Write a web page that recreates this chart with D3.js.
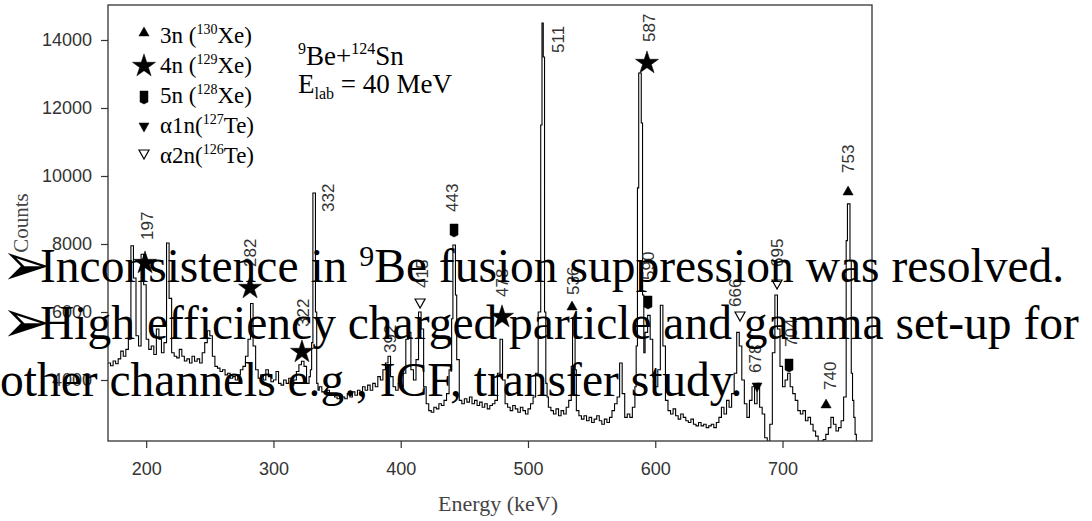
<!DOCTYPE html>
<html>
<head>
<meta charset="utf-8">
<script src="https://cdn.jsdelivr.net/npm/d3@7"></script>
<style>
body { margin: 0; background: #fff; }
</style>
</head>
<body>
<svg id="chart" width="1092" height="521"></svg>
<script>
// spectrum: bin start (keV) and counts, step histogram
const energyKeV = [
  170,172,174,176,178,180,182,184,186,188,190,192,194,196,198,
  200,202,204,206,208,210,212,214,216,218,220,222,224,226,228,
  230,232,234,236,238,240,242,244,246,248,250,252,254,256,258,
  260,262,264,266,268,270,272,274,276,278,280,282,284,286,288,
  290,292,294,296,298,300,302,304,306,308,310,312,314,316,318,
  320,322,324,326,328,329,330,331,333,334,335,336,338,340,342,
  344,346,348,350,352,354,356,358,360,362,364,366,368,370,372,
  374,376,378,380,382,384,386,388,390,392,394,396,398,400,402,
  404,406,408,410,412,414,416,418,420,422,424,426,428,430,432,
  434,436,438,440,441,443,444,446,448,450,452,454,456,458,460,
  462,464,466,468,470,472,474,476,478,480,482,484,486,488,490,
  492,494,496,498,500,502,504,506,508,510,511,512,513,514,515,
  516,518,520,522,524,526,528,530,532,534,535,537,538,540,542,
  544,546,548,550,552,554,556,558,560,562,564,566,568,570,572,
  574,576,578,580,582,584,585,586,587,589,590,591,592,594,596,
  598,600,602,604,606,608,610,612,614,616,618,620,622,624,626,
  628,630,632,634,636,638,640,642,644,646,648,650,652,654,656,
  658,660,662,664,666,668,670,672,674,676,678,680,682,684,686,
  688,690,692,694,696,698,700,702,704,706,708,710,712,714,716,
  718,720,722,724,726,728,730,732,734,736,738,740,742,744,746,
  748,750,751,753,754,755,756,757,758,760,770
];
const counts = [
  4500,4420,4560,4480,4620,4850,4700,4900,5200,7950,7000,5300,5000,7700,6800,
  5200,4900,5000,4750,5500,5200,4800,5100,8030,6400,4800,4700,4650,4900,4700,
  4560,4620,4500,4700,4550,4620,4500,4800,5100,5450,5300,4700,4400,4350,4250,
  4300,4150,4200,4050,4100,4000,4150,4300,4400,4700,5200,6250,5000,4300,4050,
  4150,4000,4300,4100,3950,4000,4250,3900,3850,4000,3900,4050,3850,4000,4250,
  4450,4550,4400,3900,4100,4300,5100,9500,6000,3900,3700,3800,3650,3600,3700,
  3550,3600,3500,3450,3550,3500,3450,3600,3500,3650,3550,3700,3600,3800,3700,
  3850,3700,3900,3800,4100,4000,4300,4500,4700,4100,3800,3700,3900,3800,4200,
  5200,5400,4300,4000,4600,6000,5500,3800,3300,3100,3050,3200,3150,3300,3250,
  3400,3600,4300,5800,7970,6500,4600,3400,3300,3450,3350,3500,3300,3400,3250,
  3350,3200,3300,3150,3250,3300,3400,4200,5200,4000,3300,3200,3100,3250,3150,
  3050,3200,3100,3000,3150,3300,3500,4200,6000,11500,14500,13500,6000,3900,3500,
  3200,3100,3000,3150,2950,3100,3000,3200,3400,4400,5800,4300,3100,2950,2850,
  2950,2800,2900,2750,2850,2950,2800,2700,2850,2750,2900,3100,3300,3500,4500,
  3600,2900,3000,2900,3200,3800,5000,9650,13030,11560,6500,4800,5400,5900,5200,
  4100,3800,4300,6200,5000,3400,3100,3000,3150,2950,2850,3000,2900,2800,2750,
  2850,2700,2650,2750,2650,2700,2600,2650,2700,2600,2750,2900,3200,3000,3400,
  3200,3600,4200,5400,5000,4000,3300,2900,3400,3800,3300,3900,3200,3000,2300,
  2200,2700,4800,6500,5500,4400,3800,4000,4200,3800,3600,3400,3100,3000,3100,
  2800,2900,2700,2500,2350,2150,2200,2250,2400,2600,2900,2700,2500,2600,2800,
  3500,8100,9180,7500,4200,3400,2900,2400,1800,1700,1700
];

const xTicks = [200, 300, 400, 500, 600, 700];
const yTicks = [4000, 6000, 8000, 10000, 12000, 14000];

// rotated peak labels: text, keV and counts at the foot of the label
const peakText = ["197","282","322","332","392","415","443","478","511","536","587","590","666","678","695","704","740","753"];
const peakE = [200.6,281.6,323.2,342.9,391.6,416.7,440.3,479.6,523.6,535.4,595.1,594.3,662.7,678.4,695.7,706.7,737.3,751.5];
const peakC = [8118,7323,5559,8941,4794,6706,8941,6441,13617,6500,13941,6941,6147,4206,7323,4971,3706,10088];

// reaction markers on the peaks
const markType = ["star","star","star","triOpen","square","star","tri","star","square","triOpen","triDown","triOpen","square","tri","tri"];
const markE = [199.1,281.6,322.4,415.2,441.9,479.6,534.6,593.5,594.3,666.6,680.0,695.7,705.1,734.2,751.5];
const markC = [7441,6706,4824,6265,8412,5853,6147,13323,6294,5882,3794,6824,4441,3265,9529];

const legendType = ["tri","star","square","triDown","triOpen"];
const legendPre = ["3n (","4n (","5n (","\u03b11n(","\u03b12n("];
const legendMass = ["130","129","128","127","126"];
const legendEl = ["Xe)","Xe)","Xe)","Te)","Te)"];

const margin = {top: 5, right: 220, bottom: 80, left: 108};
const width = 1092 - margin.left - margin.right,
      height = 521 - margin.top - margin.bottom;

const svg = d3.select("#chart");
svg.append("rect").attr("width", 1092).attr("height", 521).attr("fill", "#fff");

const x = d3.scaleLinear().domain([170, 770.3]).range([0, width]);
const y = d3.scaleLinear().domain([2206, 15029]).range([height, 0]);

const chart = svg.append("g")
    .attr("transform", "translate(" + margin.left + "," + margin.top + ")");

chart.append("clipPath").attr("id", "plotclip")
  .append("rect").attr("width", width).attr("height", height);

const spectrum = energyKeV.map(function(e, i) { return {e: e, c: counts[i]}; });

chart.append("path")
    .datum(spectrum)
    .attr("clip-path", "url(#plotclip)")
    .attr("fill", "none")
    .attr("stroke", "#000")
    .attr("stroke-width", 1.1)
    .attr("d", d3.line()
      .x(function(d) { return x(d.e); })
      .y(function(d) { return y(d.c); })
      .curve(d3.curveStepAfter));

chart.append("rect")
    .attr("width", width).attr("height", height)
    .attr("fill", "none").attr("stroke", "#333").attr("stroke-width", 1.3);

const xAxis = d3.axisBottom(x).tickValues(xTicks).tickSize(7).tickPadding(14);
const yAxis = d3.axisLeft(y).tickValues(yTicks).tickSize(7).tickPadding(9)
    .tickFormat(d3.format("d"));

const gx = chart.append("g").attr("transform", "translate(0," + height + ")").call(xAxis);
const gy = chart.append("g").call(yAxis);
[gx, gy].forEach(function(g) {
  g.select(".domain").remove();
  g.selectAll("line").attr("stroke", "#333").attr("stroke-width", 1.2);
  g.selectAll("text").attr("fill", "#333").style("font-family", "Liberation Sans").style("font-size", "18px");
});

chart.append("text")
    .attr("x", width / 2 + 8).attr("y", 511 - margin.top)
    .attr("text-anchor", "middle")
    .style("font-family", "Liberation Serif").style("font-size", "22px")
    .attr("fill", "#444")
    .text("Energy (keV)");
chart.append("text")
    .attr("transform", "rotate(-90)")
    .attr("x", -(height / 2)).attr("y", -108 + 28)
    .attr("text-anchor", "middle")
    .style("font-family", "Liberation Serif").style("font-size", "21px")
    .attr("fill", "#444")
    .text("Counts");

function symbolPath(t) {
  if (t === "star") return d3.symbol(d3.symbolStar, 165)();
  if (t === "square") return "M-4,-6H4V5L0,7L-4,5Z";
  if (t === "triDown" || t === "triOpen") return "M-5,-4H5L0,5Z";
  return d3.symbol(d3.symbolTriangle, 45)();
}
function drawMark(g, t, cx, cy) {
  g.append("path")
    .attr("transform", "translate(" + cx + "," + cy + ")")
    .attr("d", symbolPath(t))
    .attr("fill", t === "triOpen" ? "#fff" : "#000")
    .attr("stroke", "#000")
    .attr("stroke-width", t === "triOpen" ? 1.2 : 0.5);
}

markType.forEach(function(t, i) { drawMark(chart, t, x(markE[i]), y(markC[i])); });

chart.selectAll(".peak")
    .data(peakText)
  .enter().append("text")
    .attr("class", "peak")
    .attr("transform", function(d, i) { return "translate(" + x(peakE[i]) + "," + y(peakC[i]) + ") rotate(-90)"; })
    .attr("dy", "0.35em")
    .style("font-family", "Liberation Sans").style("font-size", "17px")
    .attr("fill", "#333")
    .text(function(d) { return d; });

// legend
const legendY = [33, 66, 97, 127, 154];
const legendBase = [43, 73, 103, 133, 163];
legendType.forEach(function(t, i) {
  drawMark(svg, t, 144, legendY[i]);
  const tx = svg.append("text")
      .attr("x", 160).attr("y", legendBase[i])
      .style("font-family", "Liberation Serif").style("font-size", "23px")
      .attr("fill", "#000");
  tx.append("tspan").text(legendPre[i]);
  tx.append("tspan").attr("dy", -9).style("font-size", "14px").text(legendMass[i]);
  tx.append("tspan").attr("dy", 9).text(legendEl[i]);
});

const reac = svg.append("text").attr("x", 298).attr("y", 65)
    .style("font-family", "Liberation Serif").style("font-size", "27px");
reac.append("tspan").attr("dy", -11).style("font-size", "16px").text("9");
reac.append("tspan").attr("dy", 11).text("Be+");
reac.append("tspan").attr("dy", -11).style("font-size", "16px").text("124");
reac.append("tspan").attr("dy", 11).text("Sn");

const elab = svg.append("text").attr("x", 298).attr("y", 93)
    .style("font-family", "Liberation Serif").style("font-size", "27px");
elab.append("tspan").text("E");
elab.append("tspan").attr("dy", 6).style("font-size", "16px").text("lab");
elab.append("tspan").attr("dy", -6).text(" = 40 MeV");

// slide text laid over the figure
const notes = svg.append("g")
    .style("font-family", "Liberation Serif").style("font-size", "47.5px").attr("fill", "#000");
const l1 = notes.append("text").attr("y", 282);
l1.append("tspan").attr("x", 1).attr("dy", 3).style("font-family", "DejaVu Sans").style("font-size", "60px").text("\u27a2");
l1.append("tspan").attr("x", 40).attr("dy", -3).text("Inconsistence in ");
l1.append("tspan").attr("dy", -16).style("font-size", "30px").text("9");
l1.append("tspan").attr("dy", 16).text("Be fusion suppression was resolved.");
const l2 = notes.append("text").attr("y", 339);
l2.append("tspan").attr("x", 1).attr("dy", 3).style("font-family", "DejaVu Sans").style("font-size", "60px").text("\u27a2");
l2.append("tspan").attr("x", 40).attr("dy", -3).text("High efficiency charged particle and gamma set-up for");
notes.append("text").attr("x", 0).attr("y", 396).text("other channels e.g., ICF, transfer study.");
</script>
</body>
</html>
